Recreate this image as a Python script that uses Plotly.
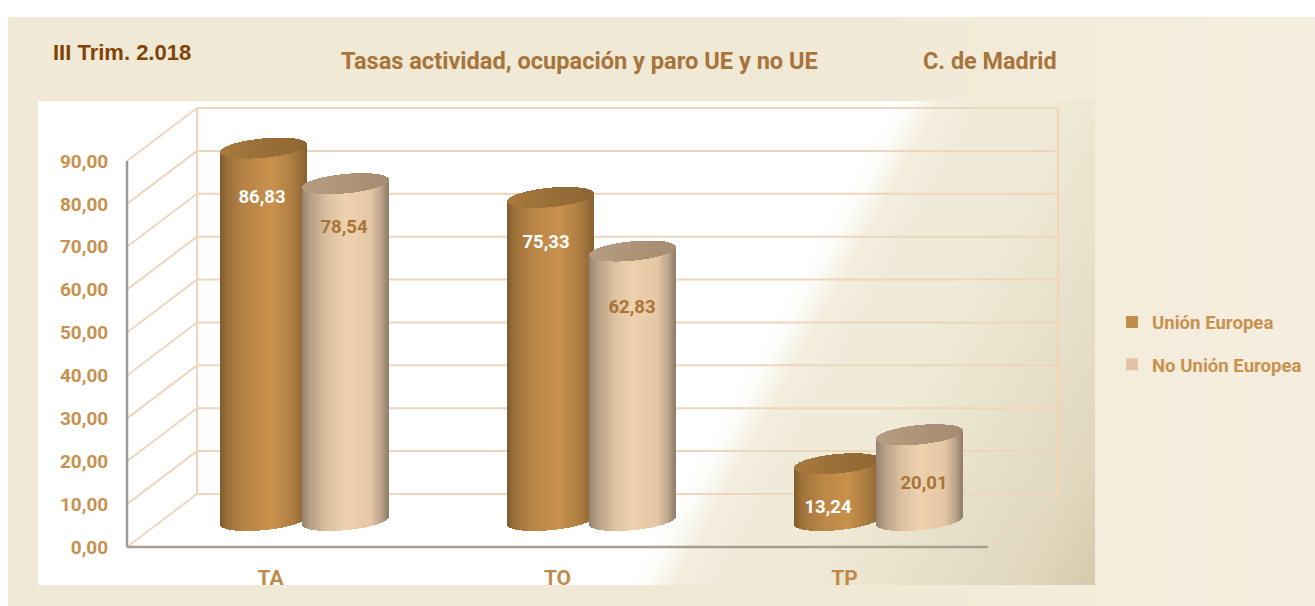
import base64, struct, zlib
import numpy as np
import plotly.graph_objects as go

# ---------- data ----------
categories = ["TA", "TO", "TP"]
union_europea = [86.83, 75.33, 13.24]
no_union_europea = [78.54, 62.83, 20.01]
y_ticks = [0, 10, 20, 30, 40, 50, 60, 70, 80, 90]
series_names = ["Unión Europea", "No Unión Europea"]
title_text = "Tasas actividad, ocupación y paro UE y no UE"
region_text = "C. de Madrid"
period_text = "III Trim. 2.018"

# ---------- geometry / style ----------
W, H = 1315, 606
PX_X = 287.0            # pixels per category
PX_Y = 4.289            # pixels per value unit
X0 = 270.5              # pixel of first category on the front plane
Y0 = 547.0              # pixel of zero on the front plane
DEPTH_X, DEPTH_Y = 70 / PX_X, 53 / PX_Y
MID_Y = DEPTH_Y / 2
A, B, SHEAR = 43.0, 9.7, 0.093
OFFSETS = (-6.5 / PX_X, 75.5 / PX_X)
FONT = "Roboto"
TICK_COL = "#c8914f"
WALL = "#eed6be"


def hexrgb(h):
    return np.array([int(h[i:i + 2], 16) for i in (1, 3, 5)], float)


def ramp(t, stops):
    ts = [s[0] for s in stops]
    cs = np.array([hexrgb(s[1]) for s in stops])
    return np.stack([np.interp(t, ts, cs[:, i]) for i in range(3)], axis=-1)


def css(c):
    return "rgb(%d,%d,%d)" % tuple(int(round(v)) for v in c)


# ---------- backdrop image ----------
yy, xx = np.mgrid[0:H, 0:W].astype(float)
img = np.full((H, W, 3), 255.0)
page = ramp(xx, [(0, "#f0e9d5"), (900, "#f1ead7"), (1100, "#f4eddc"), (1315, "#f6efdf")])
mask = (xx >= 8) & (yy >= 17)
img[mask] = page[mask]
d = xx - (952 - 0.55 * yy)
panel = ramp(d, [(0, "#ffffff"), (15, "#fdfcf9"), (45, "#f3eede"), (90, "#f0ebd9"), (160, "#f0ebd8"),
                 (270, "#e9e2cc"), (395, "#e0d7bd"), (470, "#d5c9a9")])
mask = (xx >= 38) & (xx < 1095) & (yy >= 101) & (yy < 585)
img[mask] = panel[mask]
raw = np.clip(img, 0, 255).astype(np.uint8)


def png_uri(a):
    h, w, _ = a.shape
    body = b"".join(b"\x00" + a[r].tobytes() for r in range(h))

    def chunk(t, dat):
        return struct.pack(">I", len(dat)) + t + dat + struct.pack(">I", zlib.crc32(t + dat))

    data = (b"\x89PNG\r\n\x1a\n" + chunk(b"IHDR", struct.pack(">IIBBBBB", w, h, 8, 2, 0, 0, 0))
            + chunk(b"IDAT", zlib.compress(body, 9)) + chunk(b"IEND", b""))
    return "data:image/png;base64," + base64.b64encode(data).decode()


# ---------- cylinders, drawn as bars ----------
EU_SIDE = [(0, "#7d5a2b"), (.08, "#9c7039"), (.3, "#b98546"), (.62, "#c8914d"), (.85, "#ab7c40"), (1, "#8a6230")]
NO_SIDE = [(0, "#948270"), (.1, "#b8a086"), (.3, "#dcc1a0"), (.5, "#efd1ae"), (.8, "#e6c7a5"), (.92, "#bca48a"), (1, "#8f7e6c")]
EU_CAP = [(0, "#a87a3e"), (.5, "#9a6e37"), (1, "#8f6632")]
NO_CAP = [(0, "#b69c80"), (.5, "#ad9478"), (1, "#a58c72")]

stripe_px = np.arange(-A + 0.5, A, 1.0)


def cylinder(values, offset, side, cap):
    xs, bases, heights, cols = [], [], [], []
    xc, bc, hc, cc = [], [], [], []
    for i, v in enumerate(values):
        for u in stripe_px:
            root = np.sqrt(max(0.0, 1 - (u / A) ** 2))
            low = MID_Y - (B * root - SHEAR * u) / PX_Y
            x = i + offset + u / PX_X
            t = (u + A) / (2 * A)
            xs.append(x); bases.append(low); heights.append(v)
            cols.append(css(ramp(np.array(t), side)))
            xc.append(x); bc.append(low + v); hc.append(2 * B * root / PX_Y)
            cc.append(css(ramp(np.array(t), cap)))
    w = 1.6 / PX_X
    return [go.Bar(x=xs, y=heights, base=bases, width=w, marker=dict(color=cols, line_width=0),
                   showlegend=False, hoverinfo="skip"),
            go.Bar(x=xc, y=hc, base=bc, width=w, marker=dict(color=cc, line_width=0),
                   showlegend=False, hoverinfo="skip")]


traces = cylinder(union_europea, OFFSETS[0], EU_SIDE, EU_CAP)
traces += cylinder(no_union_europea, OFFSETS[1], NO_SIDE, NO_CAP)

# ---------- value labels ----------
idx = np.arange(len(categories))
LABEL_DROP = [[11.7, 10.8, 10.3], [10.5, 13.3, 11.7]]
LABEL_SHIFT_PX = [[-2, -5, -10], [-2, -1, 4]]
LABEL_COL = ["#ffffff", "#a8743a"]
for k, vals in enumerate([union_europea, no_union_europea]):
    traces.append(go.Scatter(
        x=[i + OFFSETS[k] + LABEL_SHIFT_PX[k][i] / PX_X for i in idx],
        y=[v + MID_Y - LABEL_DROP[k][i] for i, v in enumerate(vals)],
        mode="text",
        text=[f"{v:.2f}".replace(".", ",") for v in vals],
        textfont=dict(family=FONT, size=18.5, color=LABEL_COL[k], weight=700),
        showlegend=False, hoverinfo="skip"))

# ---------- legend ----------
for name, col, grp in zip(series_names, ["#c28c4d", "#e2c3a5"], ["a", "b"]):
    traces.append(go.Scatter(x=[None], y=[None], mode="markers", name=name, legendgroup=grp,
                             marker=dict(symbol="square", size=12, color=col)))

fig = go.Figure(traces)

# ---------- 3D box ----------
shapes = []


def line(x0, y0, x1, y1, color=WALL, width=2):
    shapes.append(dict(type="line", xref="x", yref="y", x0=x0, y0=y0, x1=x1, y1=y1,
                       layer="below", line=dict(color=color, width=width)))


xl, xr = -0.5, 2.5
for v in y_ticks:
    line(xl + DEPTH_X, v + DEPTH_Y, xr + DEPTH_X, v + DEPTH_Y)
    line(xl, v, xl + DEPTH_X, v + DEPTH_Y)
line(xl + DEPTH_X, 0 + DEPTH_Y, xl + DEPTH_X, y_ticks[-1] + DEPTH_Y)
line(xr + DEPTH_X, 0 + DEPTH_Y, xr + DEPTH_X, y_ticks[-1] + DEPTH_Y, "#f3d4b8")
line(xr, 0, xr + DEPTH_X, DEPTH_Y, "#ecd9be")
line(xl, 0, xl, y_ticks[-1], "#9a9a98", 2.5)
line(xl, 0, xr, 0, "#a79f90", 2.5)

fig.update_layout(
    width=W, height=H, margin=dict(l=0, r=0, t=0, b=0),
    paper_bgcolor="white", plot_bgcolor="rgba(0,0,0,0)",
    barmode="overlay", bargap=0, separators=",.",
    font=dict(family=FONT, color=TICK_COL),
    shapes=shapes,
    images=[dict(source=png_uri(raw), xref="paper", yref="paper", x=0, y=1, sizex=1, sizey=1,
                 xanchor="left", yanchor="top", sizing="stretch", layer="below")],
    title=dict(text=title_text, x=341 / W, xanchor="left", y=1 - 61 / H, yanchor="middle",
               font=dict(family=FONT, size=23.6, color="#a8743a", weight=700)),
    annotations=[
        dict(text=region_text, xref="paper", yref="paper", x=921 / W, y=1 - 61 / H, xanchor="left",
             yanchor="middle", showarrow=False, font=dict(family=FONT, size=23.4, color="#a8743a", weight=700)),
        dict(text=period_text, xref="paper", yref="paper", x=51 / W, y=1 - 52 / H, xanchor="left",
             yanchor="middle", showarrow=False,
             font=dict(family="Liberation Sans", size=22, color="#7f4305", weight=700)),
    ],
    legend=dict(x=1112 / W, y=1 - 303.5 / H, xanchor="left", yanchor="top", tracegroupgap=15,
                bgcolor="rgba(0,0,0,0)", itemwidth=30,
                font=dict(family=FONT, size=18.6, color=TICK_COL, weight=700)),
    xaxis=dict(range=[(0 - X0) / PX_X, (W - X0) / PX_X], tickvals=list(idx), ticktext=categories,
               anchor="free", position=(H - Y0) / H, showgrid=False, zeroline=False, showline=False,
               ticks="outside", ticklen=12, tickcolor="rgba(0,0,0,0)",
               tickfont=dict(family=FONT, size=21, color="#c08a4a", weight=700), automargin=False),
    yaxis=dict(range=[(Y0 - H) / PX_Y, Y0 / PX_Y], tickvals=y_ticks, tickformat=".2f",
               anchor="free", position=127 / W, showgrid=False, zeroline=False, showline=False,
               ticks="outside", ticklen=15, tickcolor="rgba(0,0,0,0)",
               tickfont=dict(family=FONT, size=19, color=TICK_COL, weight=700), automargin=False),
)

fig.write_html("out.html", config={"displayModeBar": False},
               post_script="document.body.style.margin='0';document.documentElement.style.overflow='hidden';")
